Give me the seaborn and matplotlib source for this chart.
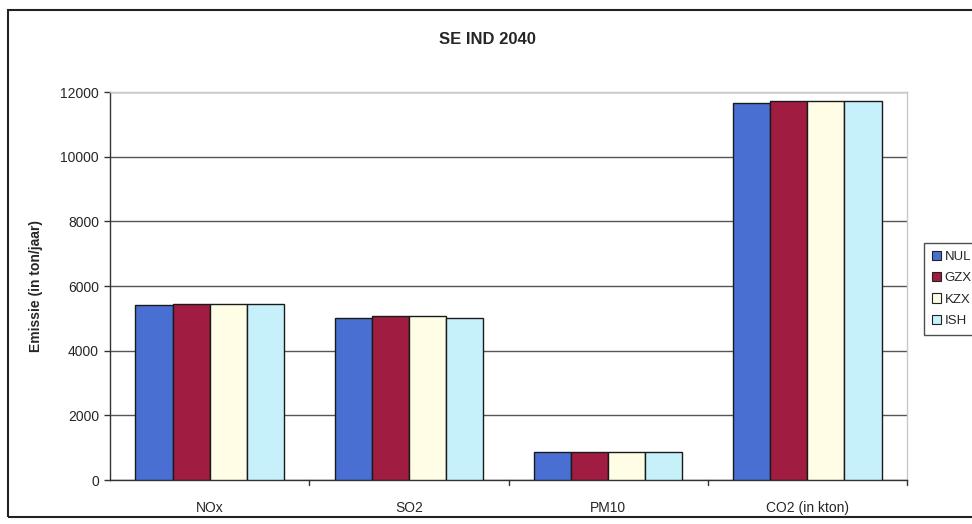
import matplotlib
matplotlib.use("Agg")
import matplotlib.pyplot as plt
import seaborn as sns
import pandas as pd
from matplotlib.patches import Rectangle

categories = ["NOx", "SO2", "PM10", "CO2 (in kton)"]
scenarios = ["NUL", "GZX", "KZX", "ISH"]
nul = [5400, 5020, 870, 11650]
gzx = [5430, 5080, 870, 11720]
kzx = [5430, 5080, 870, 11720]
ish = [5430, 5020, 870, 11720]
colors = ["#4a6fd2", "#a01c40", "#fffde6", "#c6f1fb"]
yticks = [0, 2000, 4000, 6000, 8000, 10000, 12000]

rows = []
for scen, vals in zip(scenarios, [nul, gzx, kzx, ish]):
    for cat, v in zip(categories, vals):
        rows.append({"Stof": cat, "Scenario": scen, "Emissie": v})
df = pd.DataFrame(rows)

sns.set_theme(style="white")
plt.rcParams["font.family"] = ["Liberation Sans", "DejaVu Sans"]

fig = plt.figure(figsize=(9.72, 5.24), dpi=100)
ax = fig.add_axes([110 / 972, 1 - 480 / 524, (907 - 110) / 972, (480 - 92) / 524])

sns.barplot(data=df, x="Stof", y="Emissie", hue="Scenario", order=categories,
            hue_order=scenarios, palette=colors, width=0.745, gap=0,
            edgecolor="#1a1a1a", linewidth=1.0, saturation=1, ax=ax,
            legend=False, zorder=3)

ax.set_ylim(0, 12000)
ax.set_xlim(-0.5, 3.5)
ax.set_yticks(yticks)
ax.set_yticklabels([str(t) for t in yticks], fontsize=10)
ax.yaxis.grid(True, color="#555555", linewidth=1.0, zorder=0)
ax.set_axisbelow(True)
ax.set_xlabel("")
ax.set_ylabel("Emissie (in ton/jaar)", fontsize=10, fontweight="bold", labelpad=12)
ax.tick_params(axis="x", length=0, labelsize=10, pad=15)
ax.tick_params(axis="y", direction="out", length=4, width=1, color="#333333", left=True, pad=4)

# Category separators along the x axis
for xb in [0.5, 1.5, 2.5, 3.5]:
    ax.plot([xb, xb], [0, -150], color="#333333", lw=1, clip_on=False, zorder=4)

for side in ["left", "bottom"]:
    ax.spines[side].set_color("#333333")
    ax.spines[side].set_linewidth(1.0)
for side in ["top", "right"]:
    ax.spines[side].set_color("#c8c8c8")
    ax.spines[side].set_linewidth(1.0)

fig.text(487 / 972, 1 - 40 / 524, "SE IND 2040", ha="center", va="center",
         fontsize=12, fontweight="bold")

# Outer chart frame
fig.patches.append(Rectangle((8 / 972, 1 - 517 / 524), 1.0, (517 - 10) / 524,
                             transform=fig.transFigure, fill=False,
                             edgecolor="#222222", linewidth=1.5))

handles = [Rectangle((0, 0), 1, 1, facecolor=c, edgecolor="#222222", linewidth=0.8)
           for c in colors]
leg = fig.legend(handles, scenarios, loc="upper left",
                 bbox_to_anchor=(917 / 972, 1 - 236 / 524), fontsize=9.5,
                 handlelength=0.7, handleheight=0.7, handletextpad=0.3,
                 labelspacing=0.7, borderpad=0.6, frameon=True, fancybox=False)
leg.get_frame().set_edgecolor("#222222")
leg.get_frame().set_linewidth(1.0)

fig.savefig("out.png", dpi=100)
